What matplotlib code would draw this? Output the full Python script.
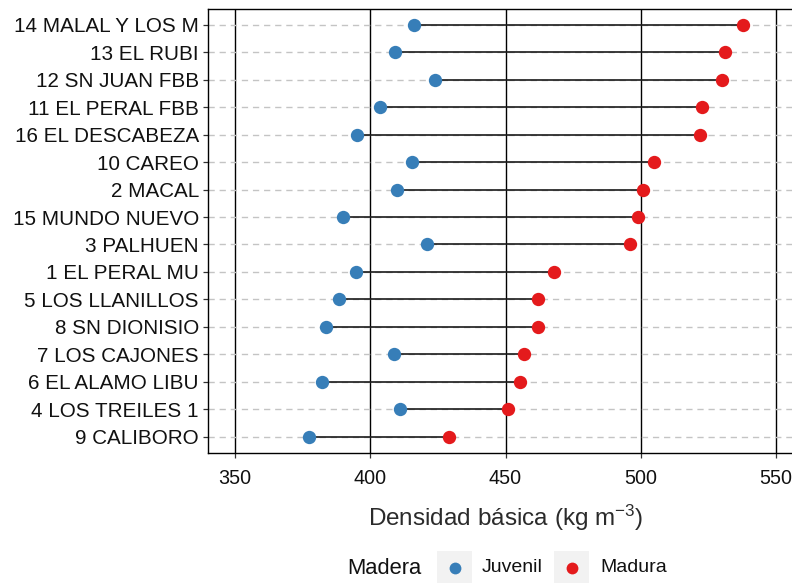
import numpy as np
import matplotlib
matplotlib.use('Agg')
import matplotlib.pyplot as plt
from matplotlib.patches import Rectangle
from matplotlib.lines import Line2D

plt.rcParams['font.family'] = ['Liberation Sans', 'DejaVu Sans']
plt.rcParams['mathtext.fontset'] = 'custom'
plt.rcParams['mathtext.rm'] = 'Liberation Sans'
plt.rcParams['mathtext.it'] = 'Liberation Sans:italic'

# rodales, de arriba hacia abajo
rodales = ['14 MALAL Y LOS M', '13 EL RUBI', '12 SN JUAN FBB', '11 EL PERAL FBB',
           '16 EL DESCABEZA', '10 CAREO', '2 MACAL', '15 MUNDO NUEVO',
           '3 PALHUEN', '1 EL PERAL MU', '5 LOS LLANILLOS', '8 SN DIONISIO',
           '7 LOS CAJONES', '6 EL ALAMO LIBU', '4 LOS TREILES 1', '9 CALIBORO']
juvenil = [416.3, 409.2, 424.0, 403.6, 395.2, 415.3, 410.0, 389.9,
           421.0, 394.6, 388.3, 383.6, 408.7, 382.3, 411.1, 377.5]
madura = [537.7, 531.3, 530.2, 522.5, 521.9, 505.0, 500.8, 499.1,
          496.2, 467.8, 462.2, 462.2, 456.7, 455.5, 450.8, 429.1]
x_ticks = [350, 400, 450, 500, 550]

col_juv = '#377EB8'
col_mad = '#E41A1C'

fig = plt.figure(figsize=(7.92, 5.83), dpi=100)
W, H = 792, 583
# panel runs past the right edge like the original export
ax = fig.add_axes([208 / W, (H - 453) / H, (803 - 208) / W, (453 - 8.5) / H])

ypos = np.arange(len(rodales))[::-1]

for x in x_ticks:
    ax.axvline(x, color='black', lw=1.0, zorder=1)
for y in ypos:
    ax.axhline(y, color='#c4c4c4', lw=1.0, ls=(0, (4.5, 3.5)), zorder=1)

ax.hlines(ypos, juvenil, madura, color='#1a1a1a', lw=1.2, zorder=2)
ax.scatter(juvenil, ypos, s=92, color=col_juv, zorder=3, linewidths=0)
ax.scatter(madura, ypos, s=92, color=col_mad, zorder=3, linewidths=0)

ax.set_xlim(340, 560)
ax.set_ylim(-0.6, len(rodales) - 0.4)
ax.set_xticks(x_ticks)
ax.set_yticks(ypos)
ax.set_yticklabels(rodales, fontsize=14.9)
ax.tick_params(axis='both', colors='#333333', labelcolor='#111111',
               length=3.5, width=0.9)
ax.tick_params(axis='x', pad=8, labelsize=14.2)
ax.tick_params(axis='y', pad=3)
for s in ax.spines.values():
    s.set_color('black')
    s.set_linewidth(1.0)

ax.set_xlabel(r'Densidad básica (kg m$^{\mathrm{-3}}$)', fontsize=17.5,
              color='#2b2b2b', labelpad=11)

# leyenda inferior
ly = 568
fig.text(347 / W, 1 - ly / H, 'Madera', fontsize=15.8, color='#111111',
         va='center', ha='left')
for kx, tx, lab, c in [(437, 482, 'Juvenil', col_juv), (554, 600, 'Madura', col_mad)]:
    fig.add_artist(Rectangle((kx / W, 1 - 587 / H), 35 / W, 36 / H,
                             transform=fig.transFigure, facecolor='#f2f2f2',
                             edgecolor='none'))
    fig.add_artist(Line2D([(kx + 17.5) / W], [1 - ly / H], marker='o',
                          markersize=8.5, color=c, markeredgewidth=0,
                          transform=fig.transFigure))
    fig.text(tx / W, 1 - ly / H, lab, fontsize=14, color='#111111',
             va='center', ha='left')

fig.savefig('out.png', dpi=100)
